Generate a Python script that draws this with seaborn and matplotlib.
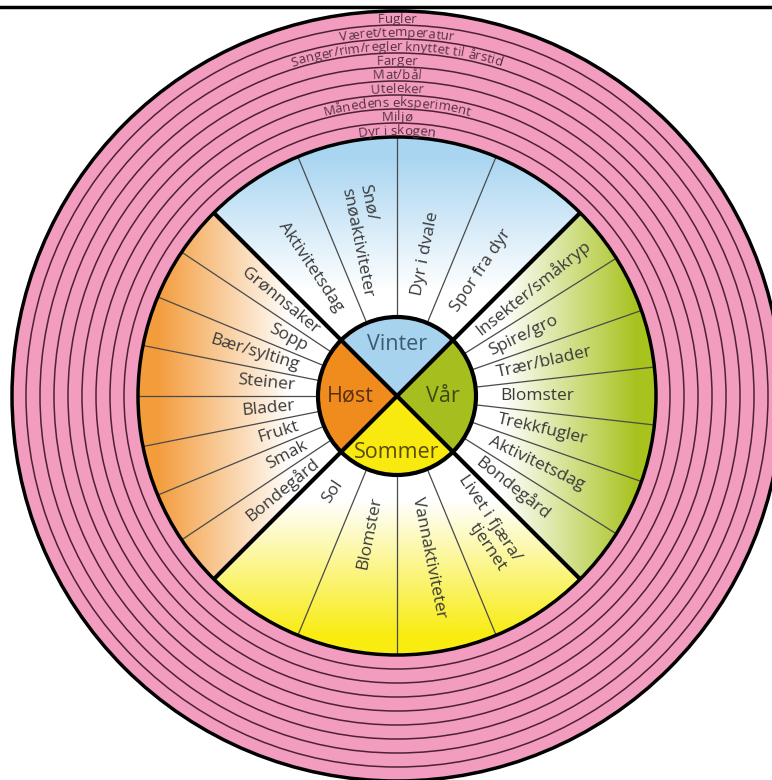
import numpy as np
import matplotlib
matplotlib.use("Agg")
import matplotlib.pyplot as plt
from matplotlib.patches import Circle, Wedge
from matplotlib.font_manager import FontProperties
import seaborn as sns

# -----------------------------
# Data
# -----------------------------
seasons = ["Vinter", "Vår", "Sommer", "Høst"]
season_start = [135, 45, -45, 225]          # quadrant start angle, items go clockwise
hub_colors = ["#a8d3ef", "#a6bf1f", "#f8e90e", "#f08c1e"]
fade_colors = ["#a9d5f1", "#a8c21e", "#f8ec10", "#f39c3c"]
hub_text_colors = ["#3b5a75", "#3d4812", "#5a4a08", "#5a3010"]

vinter = ["Aktivitetsdag", "Snø/\nsnøaktiviteter", "Dyr i dvale", "Spor fra dyr"]
vaar = ["Insekter/småkryp", "Spire/gro", "Trær/blader", "Blomster",
        "Trekkfugler", "Aktivitetsdag", "Bondegård"]
sommer = ["Livet i fjæra/\ntjernet", "Vannaktiviteter", "Blomster", "Sol"]
host = ["Bondegård", "Smak", "Frukt", "Blader", "Steiner",
        "Bær/sylting", "Sopp", "Grønnsaker"]
season_items = [vinter, vaar, sommer, host]

ring_labels = ["Fugler", "Været/temperatur", "Sanger/rim/regler knyttet til årstid",
               "Farger", "Mat/bål", "Uteleker", "Månedens eksperiment",
               "Miljø", "Dyr i skogen"]

# -----------------------------
# Layout
# -----------------------------
W, H = 772, 780
CX, CY = 397, H - 396
R_HUB, R_WHEEL, R_OUT = 79, 259, 385
R_TXT = 103
grad_dirs = [(0, 1), (1, 0), (0, -1), (-1, 0)]

sns.set_theme(style="white")
plt.rcParams["font.family"] = ["Open Sans", "DejaVu Sans"]

fig = plt.figure(figsize=(W / 100, H / 100), dpi=100)
ax = fig.add_axes([0, 0, 1, 1])
ax.set_xlim(0, W)
ax.set_ylim(0, H)
ax.set_aspect("equal")
ax.axis("off")

# top border line
ax.axhline(H - 7, color="black", lw=2.5, zorder=10)

# -----------------------------
# Outer pink rings
# -----------------------------
ax.add_patch(Circle((CX, CY), R_OUT, fc="#f29cbf", ec="black", lw=2.5, zorder=0))
ring_w = (R_OUT - R_WHEEL) / len(ring_labels)
for k in range(1, len(ring_labels)):
    ax.add_patch(Circle((CX, CY), R_WHEEL + k * ring_w, fc="none",
                        ec="#4e2232", lw=1.1, zorder=0.5))

# curved ring labels
renderer = fig.canvas.get_renderer()
ring_fp = FontProperties(family=["Open Sans", "DejaVu Sans"], size=9.5)


def text_w(s):
    return renderer.get_text_width_height_descent(s, ring_fp, ismath=False)[0]


for j, lab in enumerate(ring_labels):
    r_base = R_WHEEL + (len(ring_labels) - 1 - j) * ring_w + 2.5
    xw = text_w("x")
    pos = [0.0] + [text_w(lab[:k] + "x") - xw for k in range(1, len(lab) + 1)]
    total = pos[-1]
    start = 90 + np.rad2deg(total / 2 / r_base)
    for k, c in enumerate(lab):
        if c == " ":
            continue
        mid = (pos[k] + pos[k + 1]) / 2
        phi = start - np.rad2deg(mid / r_base)
        a = np.deg2rad(phi)
        ax.text(CX + r_base * np.cos(a), CY + r_base * np.sin(a), c,
                rotation=phi - 90, rotation_mode="anchor", ha="center",
                va="baseline", fontproperties=ring_fp, color="#55303f", zorder=6)

# -----------------------------
# Season wedges with fading colour
# -----------------------------
yy, xx = np.mgrid[0:H, 0:W] + 0.5
for s, start in enumerate(season_start):
    dx, dy = grad_dirs[s]
    d = (xx - CX) * dx + (yy - CY) * dy
    t = np.clip((d - 105) / (240 - 105), 0, 1)
    cmap = sns.blend_palette(["white", fade_colors[s]], as_cmap=True)
    im = ax.imshow(t, cmap=cmap, vmin=0, vmax=1, extent=(0, W, 0, H),
                   origin="lower", zorder=1, interpolation="bilinear")
    wedge = Wedge((CX, CY), R_WHEEL, start - 90, start, transform=ax.transData)
    im.set_clip_path(wedge)

    items = season_items[s]
    n = len(items)
    step = 90 / n
    # thin dividers
    for i in range(1, n):
        a = np.deg2rad(start - i * step)
        ax.plot([CX + R_HUB * np.cos(a), CX + R_WHEEL * np.cos(a)],
                [CY + R_HUB * np.sin(a), CY + R_WHEEL * np.sin(a)],
                color="#4a4a4a", lw=0.9, zorder=2)
    # labels
    for i, lab in enumerate(items):
        ang = start - (i + 0.5) * step
        a = np.deg2rad(ang)
        an = (ang + 180) % 360 - 180
        if -90 < an < 90:
            rot, ha, ma = an, "left", "right"
        else:
            rot = an - 180 if an > 0 else an + 180
            ha, ma = "right", "left"
        ax.text(CX + R_TXT * np.cos(a), CY + R_TXT * np.sin(a), lab,
                rotation=rot, rotation_mode="anchor", ha=ha, va="center",
                multialignment=ma, fontsize=12.5, color="#3a3a3a",
                linespacing=1.15, zorder=6)

# wheel outline
ax.add_patch(Circle((CX, CY), R_WHEEL, fc="none", ec="black", lw=2.5, zorder=4))

# -----------------------------
# Hub
# -----------------------------
hub_r_txt = [51, 46, 56, 47]
for s, start in enumerate(season_start):
    ax.add_patch(Wedge((CX, CY), R_HUB, start - 90, start, fc=hub_colors[s],
                       ec="none", zorder=4))
    a = np.deg2rad(start - 45)
    ax.text(CX + hub_r_txt[s] * np.cos(a), CY + hub_r_txt[s] * np.sin(a),
            seasons[s], ha="center", va="center", fontsize=15.5,
            color=hub_text_colors[s], zorder=7)

for ang in [45, 135, 225, 315]:
    a = np.deg2rad(ang)
    ax.plot([CX, CX + R_WHEEL * np.cos(a)], [CY, CY + R_WHEEL * np.sin(a)],
            color="black", lw=3, zorder=5, solid_capstyle="butt")
ax.add_patch(Circle((CX, CY), R_HUB, fc="none", ec="black", lw=3, zorder=5))

fig.savefig("out.png", dpi=100)
